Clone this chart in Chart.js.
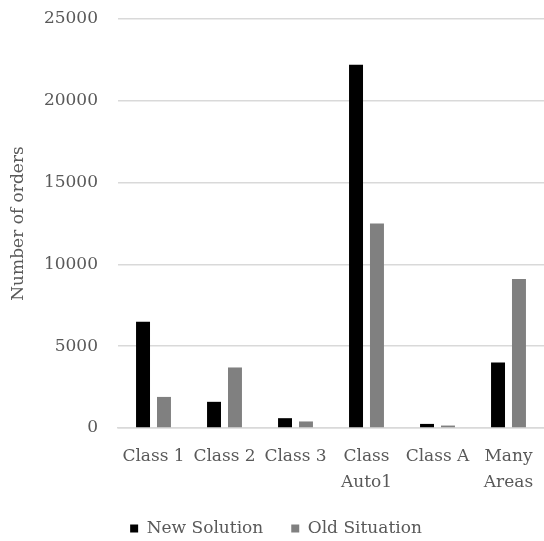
<!DOCTYPE html>
<html>
<head>
<meta charset="utf-8">
<script src="https://cdn.jsdelivr.net/npm/chart.js@4"></script>
<style>
  html, body { margin: 0; padding: 0; background: #fff; }
  #wrap { width: 544px; height: 541px; }
</style>
</head>
<body>
<div id="wrap"><canvas id="ordersChart"></canvas></div>
<script>
// orders per class, new solution vs old situation
const categories = ['Class 1', 'Class 2', 'Class 3', ['Class', 'Auto1'], 'Class A', ['Many', 'Areas']];
const newSolution = [6500, 1600, 600, 22200, 250, 4000];
const oldSituation = [1900, 3700, 400, 12500, 150, 9100];
const yTicks = [0, 5000, 10000, 15000, 20000, 25000];

const textColor = '#595959';
const gridColor = '#d9d9d9';
const font = { family: 'DejaVu Serif', size: 17 };

const ctx = document.getElementById('ordersChart').getContext('2d');
const ordersChart = new Chart(ctx, {
    type: 'bar',
    data: {
        labels: categories,
        datasets: [
            { label: 'New Solution', data: newSolution, backgroundColor: '#000000' },
            { label: 'Old Situation', data: oldSituation, backgroundColor: '#808080' }
        ]
    },
    options: {
        responsive: true,
        maintainAspectRatio: false,
        animation: false,
        categoryPercentage: 0.59,
        barPercentage: 0.667,
        layout: { padding: { left: 8, right: 0, top: 19, bottom: -6 } },
        plugins: {
            tooltip: { enabled: false },
            legend: {
                position: 'bottom',
                labels: {
                    color: textColor,
                    font: font,
                    usePointStyle: true,
                    pointStyle: 'rect',
                    boxWidth: 8,
                    boxHeight: 8,
                    padding: 28
                }
            }
        },
        scales: {
            x: {
                grid: { display: false },
                border: { color: gridColor, width: 1.5 },
                // labels may run into the legend's empty top padding
                afterFit: axis => { axis.height -= 11; },
                ticks: {
                    color: textColor,
                    font: { family: 'DejaVu Serif', size: 17, lineHeight: 1.5 },
                    padding: 8,
                    maxRotation: 0,
                    autoSkip: false
                }
            },
            y: {
                min: 0,
                max: 25000,
                afterBuildTicks: axis => { axis.ticks = yTicks.map(v => ({ value: v })); },
                afterFit: axis => {
                    axis.width = 110;
                    axis.paddingTop = 0;
                    axis.paddingBottom = 0;
                },
                grid: { color: gridColor, lineWidth: 1.5, drawTicks: false },
                border: { display: false },
                ticks: { color: textColor, font: font, padding: 20, callback: v => String(v) },
                title: {
                    display: true,
                    text: 'Number of orders',
                    color: textColor,
                    font: font,
                    padding: 0
                }
            }
        }
    }
});
</script>
</body>
</html>
